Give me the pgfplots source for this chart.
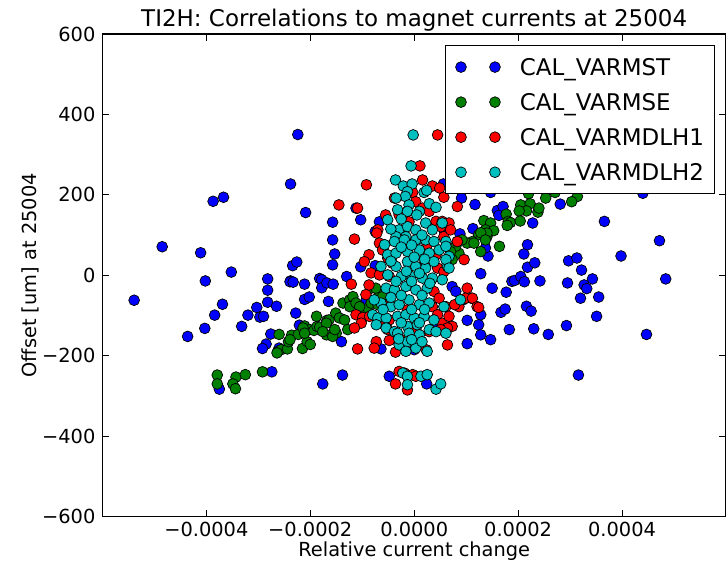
\documentclass[border=0pt]{standalone}
\usepackage{fontspec}
\setmainfont{DejaVu Sans}
\usepackage{pgfplots}
\pgfplotsset{compat=1.18}
\usepackage{pgfplotstable}

% x = relative current change, y = offset [um]
\pgfplotstableread{
x y
-2.24e-4 350
-2.38e-4 227
-3.87e-4 184
-3.67e-4 194
-2.09e-4 156
-4.85e-4 71
-4.11e-4 56
-3.52e-4 8
-2.34e-4 24
-2.26e-4 33
-4.02e-4 -14
-2.82e-4 -9
-2.38e-4 -14
-1.82e-4 -8
-5.39e-4 -62
-2.82e-4 -37
-2.82e-4 -67
-2.65e-4 -77
-3.03e-4 -80
-3.20e-4 -99
-2.97e-4 -104
-2.90e-4 -102
-3.69e-4 -72
-3.84e-4 -99
-4.03e-4 -132
-4.36e-4 -152
-3.32e-4 -127
-2.39e-4 -16
-2.33e-4 -17
-2.11e-4 -22
-2.11e-4 -60
-2.02e-4 -54
-2.28e-4 -94
-2.21e-4 -124
-2.76e-4 -146
-2.85e-4 -171
-2.92e-4 -182
-2.60e-4 -181
-2.74e-4 -240
-3.75e-4 -283
-1.57e-4 132
-1.03e-4 138
-1.12e-4 167
-0.67e-4 133
-0.75e-4 109
-1.57e-4 88
-1.53e-4 53
-1.57e-4 26
-1.03e-4 21
-0.75e-4 24
-1.30e-4 -3
-1.78e-4 -11
-1.78e-4 -31
-1.68e-4 -19
-1.56e-4 -22
-1.65e-4 -65
-0.92e-4 -61
-1.40e-4 -165
-1.38e-4 -248
-1.76e-4 -270
-0.48e-4 -251
0.24e-4 -270
-0.64e-4 -183
0.91e-4 192
1.17e-4 176
1.60e-4 161
1.63e-4 149
1.71e-4 171
0.88e-4 103
1.13e-4 116
1.42e-4 48
1.37e-4 68
1.28e-4 4
1.50e-4 -32
0.73e-4 -28
0.80e-4 -40
0.94e-4 -61
1.10e-4 -57
1.02e-4 -112
1.24e-4 -123
1.28e-4 -148
1.47e-4 -160
1.02e-4 -170
1.28e-4 -98
0.32e-4 -135
0.45e-4 -123
0.56e-4 227
0.57e-4 113
0.00e-4 -185
3.66e-4 134
4.72e-4 86
3.98e-4 48
4.84e-4 -9
4.47e-4 -147
3.16e-4 -248
2.97e-4 36
3.13e-4 43
3.22e-4 13
3.43e-4 -9
2.95e-4 -19
3.27e-4 -24
3.32e-4 -33
3.20e-4 -57
3.55e-4 -54
3.51e-4 -102
2.93e-4 -125
2.58e-4 -147
2.30e-4 -133
1.83e-4 -135
1.67e-4 -92
1.75e-4 -84
2.16e-4 -77
2.25e-4 -89
1.77e-4 -42
1.88e-4 -15
1.93e-4 -13
2.05e-4 -3
2.12e-4 -16
2.42e-4 -14
2.18e-4 20
2.32e-4 31
2.11e-4 53
2.18e-4 76
2.28e-4 130
2.81e-4 177
4.40e-4 204
1.47e-4 206
}\tblB

\pgfplotstableread{
x y
-3.79e-4 -248
-3.79e-4 -270
-3.43e-4 -253
-3.49e-4 -270
-3.44e-4 -282
-3.25e-4 -247
-2.92e-4 -240
-2.60e-4 -147
-2.63e-4 -190
-2.56e-4 -185
-2.44e-4 -183
-2.42e-4 -165
-2.36e-4 -149
-2.23e-4 -147
-2.15e-4 -182
-2.06e-4 -165
-2.00e-4 -172
-2.11e-4 -126
-2.01e-4 -135
-1.93e-4 -137
-1.87e-4 -127
-1.88e-4 -102
-1.68e-4 -112
-1.82e-4 -129
-2.64e-4 -193
-2.39e-4 -160
-2.14e-4 -131
-1.64e-4 -111
-2.11e-4 -144
-1.50e-4 -144
-1.69e-4 -148
-1.57e-4 -152
-1.51e-4 -94
-1.44e-4 -106
-1.34e-4 -111
-1.37e-4 -69
-1.24e-4 -61
-1.18e-4 -53
-1.24e-4 -78
-1.12e-4 -69
-1.02e-4 -86
-0.96e-4 -94
-0.89e-4 -82
-0.83e-4 -69
-0.70e-4 -73
-0.67e-4 -44
-0.57e-4 -57
-0.83e-4 -32
-0.74e-4 -32
-0.61e-4 -53
-1.05e-4 -78
-1.69e-4 -119
-1.53e-4 -135
-1.76e-4 -140
-1.28e-4 -135
1.34e-4 136
1.47e-4 130
1.37e-4 113
1.24e-4 101
1.40e-4 96
1.12e-4 84
1.02e-4 80
0.92e-4 88
0.86e-4 55
0.80e-4 72
0.73e-4 39
2.20e-4 203
2.53e-4 192
2.71e-4 206
3.14e-4 196
3.03e-4 183
2.05e-4 175
2.23e-4 178
2.16e-4 160
2.02e-4 160
2.38e-4 157
2.40e-4 167
1.77e-4 152
1.81e-4 134
1.85e-4 131
2.04e-4 135
1.53e-4 111
1.40e-4 105
1.28e-4 106
1.37e-4 88
1.64e-4 72
1.28e-4 59
1.79e-4 124
0.83e-4 84
0.70e-4 59
1.15e-4 80
}\tblG

\pgfplotstableread{
x y
0.45e-4 349
0.11e-4 272
-0.92e-4 225
0.16e-4 237
0.35e-4 222
0.49e-4 217
0.57e-4 194
-0.03e-4 206
-1.45e-4 175
-1.09e-4 167
-1.15e-4 90
-0.70e-4 113
-0.72e-4 105
-0.38e-4 192
0.03e-4 183
0.16e-4 167
0.29e-4 159
0.42e-4 134
0.51e-4 121
-0.29e-4 150
0.57e-4 96
-0.87e-4 51
-0.96e-4 34
-0.83e-4 6
-1.21e-4 -22
-0.87e-4 -24
-0.93e-4 -48
-1.12e-4 -98
-0.99e-4 -105
-0.86e-4 -102
-1.02e-4 -119
-0.67e-4 80
-0.61e-4 63
-0.51e-4 43
-0.42e-4 30
0.45e-4 18
0.57e-4 9
0.38e-4 -40
0.48e-4 -57
0.61e-4 -78
0.35e-4 -78
0.45e-4 -98
0.54e-4 -119
0.03e-4 -135
-0.48e-4 -111
-0.57e-4 -123
-0.51e-4 -135
0.61e-4 -140
-1.09e-4 -183
-0.73e-4 -165
-0.77e-4 -181
-0.48e-4 -162
-0.36e-4 -191
0.29e-4 -140
0.64e-4 -173
-0.29e-4 -239
-0.19e-4 -243
-0.03e-4 -247
0.03e-4 -251
-0.36e-4 -270
-0.13e-4 -285
0.83e-4 171
0.54e-4 134
0.67e-4 130
0.70e-4 113
0.83e-4 84
0.96e-4 39
1.02e-4 -32
0.99e-4 -57
1.12e-4 -57
1.21e-4 -78
0.86e-4 -78
0.78e-4 -73
0.67e-4 -102
0.73e-4 -127
0.64e-4 -131
1.24e-4 -80
-1.15e-4 -131
0.51e-4 -135
-0.48e-4 -3
-0.29e-4 108
0.25e-4 76
-0.38e-4 -36
0.33e-4 -11
-0.13e-4 -86
0.21e-4 34
-0.25e-4 -160
0.23e-4 -185
-0.55e-4 150
-0.10e-4 133
0.42e-4 51
-0.57e-4 -73
-0.67e-4 1
}\tblR

\pgfplotstableread{
x y
-0.02e-4 349
-0.06e-4 272
-0.36e-4 237
-0.21e-4 222
-0.04e-4 227
-0.13e-4 208
-0.17e-4 196
-0.35e-4 192
0.19e-4 206
0.24e-4 211
-0.10e-4 175
-0.32e-4 163
0.29e-4 178
0.42e-4 169
-0.51e-4 138
-0.13e-4 159
0.10e-4 159
-0.29e-4 113
-0.13e-4 121
0.03e-4 113
0.22e-4 130
0.35e-4 113
-0.35e-4 96
-0.16e-4 96
0.10e-4 92
-0.57e-4 76
-0.38e-4 84
-0.19e-4 88
0.03e-4 88
0.22e-4 88
0.38e-4 84
-0.51e-4 51
-0.35e-4 55
-0.13e-4 59
0.10e-4 63
0.29e-4 55
0.48e-4 63
-0.64e-4 22
-0.35e-4 22
-0.13e-4 34
0.03e-4 22
0.22e-4 18
0.38e-4 34
-0.51e-4 1
-0.25e-4 -3
-0.06e-4 -3
0.16e-4 -7
0.35e-4 -7
-0.54e-4 -32
-0.38e-4 -36
-0.16e-4 -28
0.03e-4 -36
0.25e-4 -32
-0.64e-4 -69
-0.45e-4 -78
-0.29e-4 -73
-0.10e-4 -61
0.10e-4 -73
0.29e-4 -69
-0.80e-4 -98
-0.70e-4 -106
-0.54e-4 -106
-0.32e-4 -102
-0.16e-4 -98
0.00e-4 -106
0.19e-4 -102
0.38e-4 -111
-0.73e-4 -123
-0.54e-4 -131
-0.38e-4 -140
-0.13e-4 -127
0.06e-4 -123
0.29e-4 -135
-0.32e-4 -144
-0.10e-4 -144
0.10e-4 -148
0.42e-4 -140
-0.29e-4 -173
-0.13e-4 -165
0.03e-4 -181
0.25e-4 -189
-0.16e-4 -189
-0.22e-4 -243
-0.13e-4 -251
0.13e-4 -251
0.25e-4 -247
-0.13e-4 -272
0.42e-4 -283
0.51e-4 -270
0.61e-4 84
0.67e-4 47
0.64e-4 22
0.89e-4 -61
0.61e-4 -144
-0.77e-4 -61
0.54e-4 130
0.61e-4 72
0.61e-4 39
0.67e-4 18
0.54e-4 -11
0.57e-4 -78
-0.25e-4 140
0.05e-4 150
-0.45e-4 115
0.15e-4 100
-0.05e-4 75
-0.25e-4 70
0.20e-4 40
-0.45e-4 35
0.00e-4 45
-0.15e-4 10
0.10e-4 5
-0.35e-4 -15
0.30e-4 -20
-0.05e-4 -15
-0.25e-4 -50
0.15e-4 -50
-0.45e-4 -55
-0.05e-4 -85
0.20e-4 -85
-0.60e-4 -85
-0.25e-4 -118
0.10e-4 -118
-0.05e-4 -160
-0.30e-4 -158
0.15e-4 -165
}\tblC

\definecolor{mplgreen}{rgb}{0,0.5,0}
\definecolor{mplcyan}{rgb}{0,0.75,0.75}

\begin{document}
\begin{tikzpicture}
\begin{axis}[
  name=ax, at={(0,0)}, anchor=south west,
  scale only axis, width=312pt, height=241.5pt,
  xmin=-0.0006, xmax=0.0006, ymin=-600, ymax=600,
  scaled x ticks=false, scaled y ticks=false,
  xtick={-0.0004,-0.0002,0,0.0002,0.0004},
  xticklabels={−0.0004,−0.0002,0.0000,0.0002,0.0004},
  ytick={-600,-400,-200,0,200,400,600},
  yticklabels={−600,−400,−200,0,200,400,600},
  minor tick num=0,
  tick align=inside, tick pos=both, major tick length=3.5pt,
  axis line style={line width=0.6pt},
  every tick/.style={black, line width=0.5pt},
  tick label style={font=\fontsize{9.7}{11.6}\selectfont},
  xticklabel style={anchor=base, yshift=-10pt},
  label style={font=\fontsize{9.7}{11.6}\selectfont},
  xlabel={Relative current change},
  xlabel style={at={(axis description cs:0.5,0)}, anchor=base, yshift=-20pt},
  ylabel={Offset [um] at 25004},
  ylabel style={at={(axis description cs:-0.105,0.5)}, anchor=base, rotate=0},
  title={TI2H: Correlations to magnet currents at 25004},
  title style={font=\fontsize{11.5}{13.8}\selectfont, at={(axis description cs:0.5,1)}, anchor=base, yshift=-2.5pt},
  legend image code/.code={\draw[#1, only marks] plot coordinates {(0pt,0pt) (17pt,0pt)};},
  legend cell align=left,
  legend style={at={(axis description cs:1,1)}, anchor=north east, xshift=-5.5pt, yshift=-5.5pt,
    draw=black, line width=0.6pt, font=\fontsize{11.5}{13.8}\selectfont,
    inner xsep=5.2pt, inner ysep=6.5pt, row sep=9pt,
    nodes={inner sep=0pt, text depth=0pt},
    /tikz/every odd column/.append style={column sep=9.7pt}},
]
\addplot[only marks, mark=*, mark size=2.7pt, mark options={draw=black, fill=blue, line width=0.35pt}] table {\tblB};
\addlegendentry{CAL\_VARMST}
\addplot[only marks, mark=*, mark size=2.7pt, mark options={draw=black, fill=mplgreen, line width=0.35pt}] table {\tblG};
\addlegendentry{CAL\_VARMSE}
\addplot[only marks, mark=*, mark size=2.7pt, mark options={draw=black, fill=red, line width=0.35pt}] table {\tblR};
\addlegendentry{CAL\_VARMDLH1}
\addplot[only marks, mark=*, mark size=2.7pt, mark options={draw=black, fill=mplcyan, line width=0.35pt}] table {\tblC};
\addlegendentry{CAL\_VARMDLH2}
\end{axis}
\pgfresetboundingbox
\path[use as bounding box] ([xshift=-51.25pt,yshift=-23.5pt]ax.south west) rectangle ([yshift=17pt]ax.north east);
\end{tikzpicture}
\end{document}
